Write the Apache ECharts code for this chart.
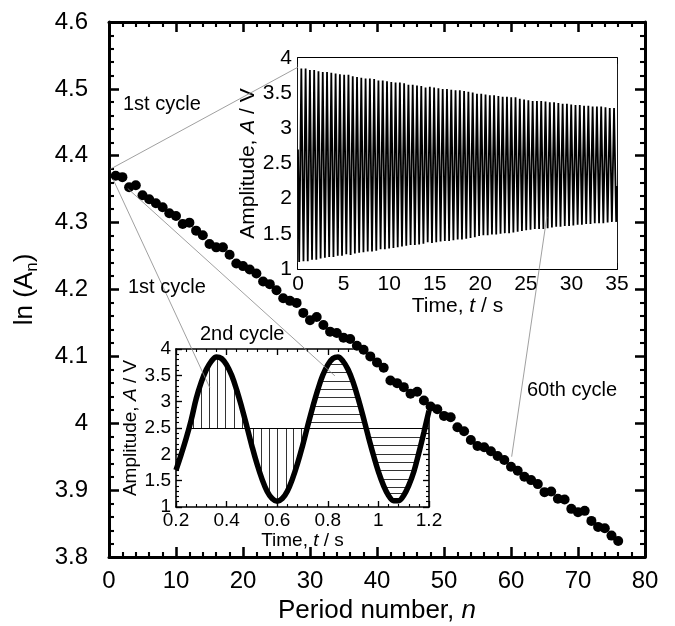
<!DOCTYPE html>
<html><head><meta charset="utf-8">
<script src="https://cdn.jsdelivr.net/npm/echarts@6/dist/echarts.min.js"></script>
<style>html,body{margin:0;padding:0;background:#fff}#c{width:675px;height:626px}</style>
</head><body><div id="c"></div>
<script>
// ---------- main chart data ----------
const periodNumber = [1,2,3,4,5,6,7,8,9,10,11,12,13,14,15,16,17,18,19,20,21,22,23,24,25,26,27,28,29,30,31,32,33,34,35,36,37,38,39,40,41,42,43,44,45,46,47,48,49,50,51,52,53,54,55,56,57,58,59,60,61,62,63,64,65,66,67,68,69,70,71,72,73,74,75,76];
const lnA = [4.370,4.368,4.353,4.356,4.341,4.335,4.329,4.323,4.314,4.310,
 4.298,4.300,4.288,4.281,4.268,4.263,4.263,4.252,4.239,4.235,
 4.230,4.224,4.212,4.208,4.199,4.187,4.183,4.180,4.165,4.154,
 4.159,4.147,4.137,4.135,4.128,4.126,4.116,4.110,4.100,4.091,
 4.083,4.064,4.060,4.054,4.044,4.047,4.034,4.025,4.021,4.011,
 4.009,3.994,3.988,3.975,3.966,3.964,3.958,3.951,3.945,3.935,
 3.929,3.920,3.915,3.909,3.897,3.898,3.887,3.886,3.872,3.867,
 3.869,3.854,3.845,3.843,3.832,3.824];

// ---------- inset 1 (whole record) ----------
const cyclePeriod = 0.47;      // s
const firstTroughTime = 0.13;  // s
const firstPeakTime = 0.365;   // s
const recordStart = [0, 2.70];
const recordEnd = [35, 2.18];
const peakValues = [3.85,3.85,3.83,3.83,3.81,3.80,3.80,3.79,3.78,3.77,
 3.76,3.76,3.74,3.73,3.72,3.71,3.71,3.70,3.68,3.68,
 3.67,3.66,3.65,3.65,3.64,3.62,3.62,3.61,3.60,3.58,
 3.59,3.58,3.57,3.56,3.56,3.55,3.54,3.54,3.53,3.52,
 3.51,3.49,3.49,3.48,3.47,3.47,3.46,3.45,3.45,3.44,
 3.44,3.42,3.41,3.40,3.39,3.39,3.39,3.38,3.37,3.37,
 3.36,3.35,3.35,3.34,3.33,3.33,3.32,3.32,3.31,3.31,
 3.31,3.30,3.29,3.29];
const troughValues = [1.10,
 1.11,1.11,1.13,1.13,1.15,1.16,1.17,1.17,1.19,1.19,
 1.21,1.20,1.22,1.23,1.24,1.25,1.25,1.26,1.28,1.28,
 1.29,1.30,1.31,1.32,1.33,1.34,1.34,1.35,1.36,1.38,
 1.37,1.38,1.39,1.40,1.40,1.41,1.42,1.42,1.43,1.44,
 1.45,1.47,1.48,1.48,1.49,1.49,1.50,1.51,1.51,1.52,
 1.53,1.54,1.55,1.56,1.57,1.57,1.57,1.58,1.59,1.60,
 1.60,1.61,1.61,1.62,1.63,1.63,1.64,1.64,1.65,1.65,
 1.65,1.66,1.67,1.67];

// ---------- inset 2 (first two cycles) ----------
const fineTime = [0.20,0.22,0.24,0.26,0.28,0.30,0.32,0.34,0.36,0.38,
 0.40,0.42,0.44,0.46,0.48,0.50,0.52,0.54,0.56,0.58,
 0.60,0.62,0.64,0.66,0.68,0.70,0.72,0.74,0.76,0.78,
 0.80,0.82,0.84,0.86,0.88,0.90,0.92,0.94,0.96,0.98,
 1.00,1.02,1.04,1.06,1.08,1.10,1.12,1.14,1.16,1.18,1.20];
const fineAmp = [1.70,1.99,2.30,2.65,3.06,3.37,3.61,3.77,3.85,3.82,
 3.70,3.50,3.22,2.89,2.53,2.16,1.82,1.53,1.30,1.16,
 1.11,1.16,1.30,1.53,1.82,2.16,2.53,2.89,3.22,3.50,
 3.70,3.82,3.85,3.77,3.61,3.37,3.06,2.71,2.34,1.99,
 1.67,1.41,1.22,1.12,1.12,1.22,1.41,1.67,2.03,2.42,2.83];
const baseLevel = 2.5;
const verticalHatchTimes = [0.27,0.30,0.33,0.365,0.395,0.43,0.46,0.505,0.535,0.57,0.60,0.635,0.665,0.695];
const peakHatchLevels = [2.61,2.77,2.92,3.08,3.24,3.39,3.55,3.71];
const troughHatchLevels = [2.33,2.17,2.01,1.85,1.70,1.52,1.38,1.26];
const secondPeakWindow = [0.70, 0.96];
const secondTroughWindow = [0.94, 1.20];

// ---------- build ----------
const FONT = '"Liberation Sans", Arial, Helvetica, sans-serif';
const mainData = periodNumber.map((n, i) => [n, lnA[i]]);

const recordData = [recordStart];
for (let k = 0; k < troughValues.length; k++) {
  recordData.push([firstTroughTime + cyclePeriod * k, troughValues[k]]);
  if (k < peakValues.length) recordData.push([firstPeakTime + cyclePeriod * k, peakValues[k]]);
}
recordData.push(recordEnd);

const fineData = fineTime.map((t, i) => [t, fineAmp[i]]);
function ampAt(t) {
  for (let i = 0; i < fineTime.length - 1; i++) {
    if (t >= fineTime[i] && t <= fineTime[i + 1]) {
      const f = (t - fineTime[i]) / (fineTime[i + 1] - fineTime[i]);
      return fineAmp[i] + f * (fineAmp[i + 1] - fineAmp[i]);
    }
  }
  return null;
}
function crossings(level, a, b) {
  const out = [];
  for (let i = 0; i < fineTime.length - 1; i++) {
    if (fineTime[i] < a - 1e-9 || fineTime[i + 1] > b + 1e-9) continue;
    const v0 = fineAmp[i], v1 = fineAmp[i + 1];
    if ((v0 - level) * (v1 - level) <= 0 && v0 !== v1) {
      out.push(fineTime[i] + (level - v0) / (v1 - v0) * (fineTime[i + 1] - fineTime[i]));
    }
  }
  return out;
}
const hatchLines = [];
verticalHatchTimes.forEach(t => hatchLines.push({coords: [[t, baseLevel], [t, ampAt(t)]]}));
peakHatchLevels.forEach(L => { const c = crossings(L, secondPeakWindow[0], secondPeakWindow[1]); if (c.length >= 2) hatchLines.push({coords: [[c[0], L], [c[c.length - 1], L]]}); });
troughHatchLevels.forEach(L => { const c = crossings(L, secondTroughWindow[0], secondTroughWindow[1]); if (c.length >= 2) hatchLines.push({coords: [[c[0], L], [c[c.length - 1], L]]}); });
const baseStart = crossings(baseLevel, fineTime[0], 0.3)[0];
const baseLine = [{coords: [[baseStart, baseLevel], [fineTime[fineTime.length - 1], baseLevel]]}];

function axis(o) {
  const lw = o.lw;
  return {
    type: 'value', gridIndex: o.grid, position: o.pos, min: o.min, max: o.max, interval: o.interval,
    axisLine: {show: true, onZero: false, lineStyle: {color: '#000', width: lw}},
    axisTick: {show: true, inside: true, length: o.tick, lineStyle: {color: '#000', width: lw * 0.85}},
    minorTick: {show: true, splitNumber: o.minor, length: o.tick / 2, lineStyle: {color: '#000', width: lw * 0.7}},
    splitLine: {show: false}, minorSplitLine: {show: false},
    axisLabel: {show: !!o.label, fontSize: o.fs, color: '#000', fontFamily: FONT, margin: o.margin, hideOverlap: false, showMinLabel: true, showMaxLabel: true},
    name: o.name || '', nameLocation: 'middle', nameGap: o.nameGap,
    nameTextStyle: {color: '#000', fontFamily: FONT, fontSize: o.nfs, rich: o.rich}
  };
}
const richMainX = {a: {fontSize: 26, fontFamily: FONT, color: '#000'}, i: {fontSize: 26, fontFamily: FONT, fontStyle: 'italic', color: '#000'}};
const richMainY = {a: {fontSize: 26, fontFamily: FONT, color: '#000', lineHeight: 32}, s: {fontSize: 17, fontFamily: FONT, color: '#000', verticalAlign: 'bottom', lineHeight: 17}};
const rich1 = {a: {fontSize: 21, fontFamily: FONT, color: '#000'}, i: {fontSize: 21, fontFamily: FONT, fontStyle: 'italic', color: '#000'}};
const rich2 = {a: {fontSize: 19, fontFamily: FONT, color: '#000'}, i: {fontSize: 19, fontFamily: FONT, fontStyle: 'italic', color: '#000'}};

const G0 = {left: 109, top: 22, width: 536, height: 535};
const G1 = {left: 298, top: 58, width: 319, height: 211};
const G2 = {left: 176, top: 349, width: 253, height: 158};

const chart = echarts.init(document.getElementById('c'), null, {renderer: 'canvas'});
chart.setOption({
  animation: false,
  backgroundColor: '#fff',
  grid: [
    Object.assign({containLabel: false, outerBoundsMode: 'none'}, G0),
    Object.assign({containLabel: false, outerBoundsMode: 'none', show: true, backgroundColor: '#fff', borderWidth: 0, z: 3}, G1),
    Object.assign({containLabel: false, outerBoundsMode: 'none'}, G2)
  ],
  xAxis: [
    axis({grid: 0, pos: 'bottom', min: 0, max: 80, interval: 10, lw: 3, tick: 10, minor: 5, label: true, fs: 24, margin: 12, name: '{a|Period number, }{i|n}', nameGap: 30, nfs: 26, rich: richMainX}),
    axis({grid: 0, pos: 'top', min: 0, max: 80, interval: 10, lw: 3, tick: 10, minor: 5}),
    axis({grid: 1, pos: 'bottom', min: 0, max: 35, interval: 5, lw: 1.8, tick: 6, minor: 5, label: true, fs: 21, margin: 5, name: '{a|Time, }{i|t}{a| / s}', nameGap: 26, nfs: 21, rich: rich1}),
    axis({grid: 1, pos: 'top', min: 0, max: 35, interval: 5, lw: 1.8, tick: 6, minor: 5}),
    axis({grid: 2, pos: 'bottom', min: 0.2, max: 1.2, interval: 0.2, lw: 1.6, tick: 6, minor: 5, label: true, fs: 19, margin: 4, name: '{a|Time, }{i|t}{a| / s}', nameGap: 21, nfs: 19, rich: rich2}),
    axis({grid: 2, pos: 'top', min: 0.2, max: 1.2, interval: 0.2, lw: 1.6, tick: 6, minor: 5})
  ],
  yAxis: [
    axis({grid: 0, pos: 'left', min: 3.8, max: 4.6, interval: 0.1, lw: 3, tick: 10, minor: 5, label: true, fs: 24, margin: 21, name: '{a|ln (A}{s|n}{a|)}', nameGap: 68, nfs: 26, rich: richMainY}),
    axis({grid: 0, pos: 'right', min: 3.8, max: 4.6, interval: 0.1, lw: 3, tick: 10, minor: 5}),
    axis({grid: 1, pos: 'left', min: 1, max: 4, interval: 0.5, lw: 1.8, tick: 6, minor: 5, label: true, fs: 21, margin: 6, name: '{a|Amplitude, }{i|A}{a| / V}', nameGap: 38, nfs: 21, rich: rich1}),
    axis({grid: 1, pos: 'right', min: 1, max: 4, interval: 0.5, lw: 1.8, tick: 6, minor: 5}),
    axis({grid: 2, pos: 'left', min: 1, max: 4, interval: 0.5, lw: 1.6, tick: 6, minor: 5, label: true, fs: 19, margin: 5, name: '{a|Amplitude, }{i|A}{a| / V}', nameGap: 32, nfs: 19, rich: rich2}),
    axis({grid: 2, pos: 'right', min: 1, max: 4, interval: 0.5, lw: 1.6, tick: 6, minor: 5})
  ],
  series: [
    {type: 'line', xAxisIndex: 4, yAxisIndex: 4, data: fineData, smooth: 0.4, showSymbol: false, symbol: 'none', lineStyle: {color: '#000', width: 5.5}, z: 3},
    {type: 'lines', coordinateSystem: 'cartesian2d', xAxisIndex: 4, yAxisIndex: 4, data: hatchLines, lineStyle: {color: '#333', width: 1, opacity: 1}, z: 2},
    {type: 'lines', coordinateSystem: 'cartesian2d', xAxisIndex: 4, yAxisIndex: 4, data: baseLine, lineStyle: {color: '#000', width: 1.2, opacity: 1}, z: 2},
    {type: 'line', xAxisIndex: 2, yAxisIndex: 2, data: recordData, showSymbol: false, symbol: 'none', lineStyle: {color: '#000', width: 1.8}, z: 4},
    {type: 'scatter', xAxisIndex: 0, yAxisIndex: 0, data: mainData, symbol: 'circle', symbolSize: 10, itemStyle: {color: '#000', opacity: 1}, z: 6}
  ]
});

// connector lines (anchored in data coordinates), mask where the main trace crosses the inset corner, annotations
const P = (xi, yi, v) => chart.convertToPixel({xAxisIndex: xi, yAxisIndex: yi}, v);
const connectors = [
  [P(0, 0, [0.2, 4.38]), P(2, 2, [0, 3.87])],
  [P(0, 0, [0.6, 4.365]), P(4, 4, [0.334, 3.26])],
  [P(0, 0, [2.8, 4.351]), P(4, 4, [0.828, 3.49])],
  [P(0, 0, [60.1, 3.95]), P(2, 2, [27.3, 1.74])]
];
const graphics = connectors.map(c => ({type: 'line', z: 10, shape: {x1: c[0][0], y1: c[0][1], x2: c[1][0], y2: c[1][1]}, style: {stroke: '#888', lineWidth: 0.8}}));
const maskCorner = [[36.4, 4.14], [36.4, 4.111], [47.8, 4.02], [48.6, 4.02], [48.6, 4.14]].map(v => P(0, 0, v));
graphics.push({type: 'polygon', z: 5, shape: {points: maskCorner}, style: {fill: '#fff'}});
const notes = [['1st cycle', 123, 104], ['1st cycle', 128, 287], ['2nd cycle', 200, 334], ['60th cycle', 527, 390]];
notes.forEach(n => graphics.push({type: 'text', z: 11, x: n[1], y: n[2], style: {text: n[0], fill: '#000', font: '20px ' + FONT, textVerticalAlign: 'middle', textAlign: 'left'}}));
chart.setOption({graphic: graphics});
</script></body></html>
